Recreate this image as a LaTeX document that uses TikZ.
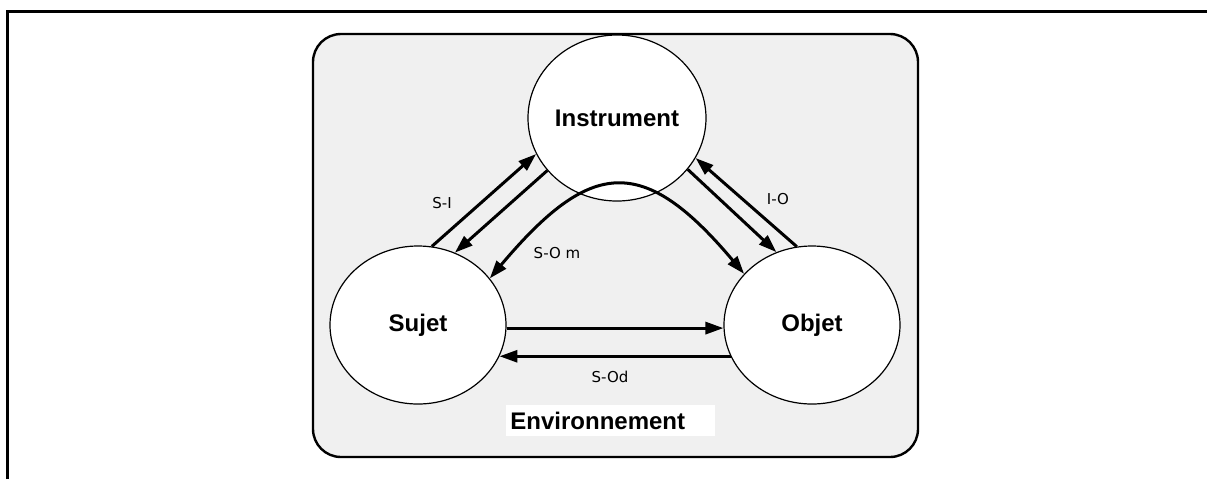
\documentclass[tikz,border=0pt]{standalone}
\usepackage{fontspec}
\setmainfont{Liberation Sans}
\newfontfamily\lblfont{DejaVu Sans}
\usetikzlibrary{positioning, shapes.geometric, arrows.meta}
\definecolor{envgray}{RGB}{240,240,240}

\begin{document}
\begin{tikzpicture}[x=0.5pt,y=-0.5pt,
        pole/.style={draw,ellipse,fill=white,line width=0.6pt,inner sep=0pt,
            minimum width=88pt,minimum height=79pt,
            font=\fontsize{12}{14}\selectfont\bfseries},
        link/.style={line width=1.5pt,-{Triangle[length=9pt,width=6pt]}},
        lbl/.style={font=\lblfont\fontsize{7.5}{9}\selectfont}]
        \useasboundingbox (0,0) rectangle (1207,479);
        \draw[line width=1.5pt] (7,479) -- (7,11) -- (1207,11);
        \draw[line width=1.2pt,fill=envgray,rounded corners=14pt] (313,34) rectangle (918,457);

        \node[pole,minimum width=89pt,minimum height=83pt] (instrument) at (617,118) {Instrument};
        \node[pole] (sujet) at (418,325) {Sujet};
        \node[pole] (objet) at (812,325) {Objet};

        \node[fill=white,anchor=north west,inner xsep=2pt,text width=100.5pt,
            minimum height=15.5pt,font=\fontsize{12}{14}\selectfont\bfseries] (env) at (506,405) {Environnement};

        \draw[link] (sujet.80) -- (instrument.204);
        \draw[link] (instrument.217) -- (sujet.63);
        \draw[link] (instrument.-36) -- (objet.116);
        \draw[link] (objet.101) -- (instrument.-27);
        \draw[link] (sujet.-2) -- (objet.182);
        \draw[link] (objet.201.7) -- (sujet.-21.8);
        \draw[link,{Triangle[length=9pt,width=6pt]}-{Triangle[length=9pt,width=6pt]}]
            (sujet.33) .. controls +(101,-120) and +(-101,-120) .. (objet.143);

        \node[lbl] (lsi) at (442,203) {S-I};
        \node[lbl] (lsom) at (557,253) {S-O m};
        \node[lbl] (lio) at (778,199) {I-O};
        \node[lbl] (lsod) at (610,377) {S-Od};
    \end{tikzpicture}
\end{document}
